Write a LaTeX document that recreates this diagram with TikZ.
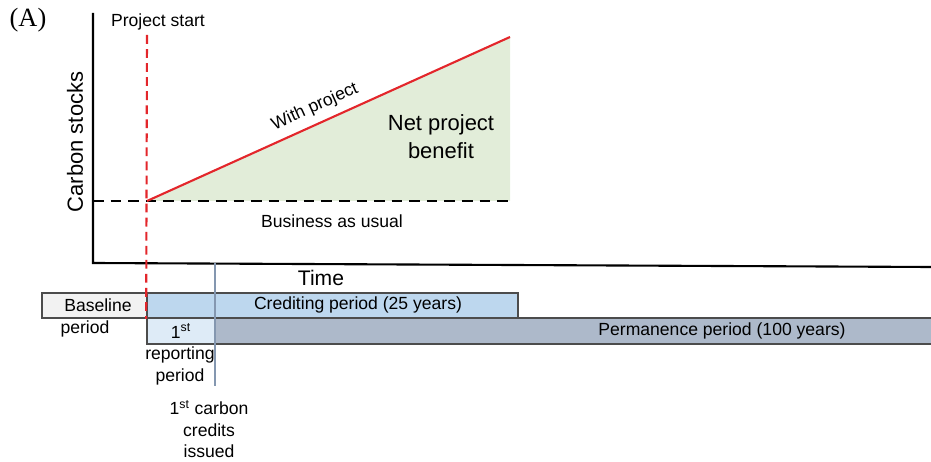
\documentclass[tikz,border=0pt]{standalone}
\usepackage{fontspec}
\setmainfont{Liberation Sans}
\newfontfamily\panelfont{Liberation Serif}
\usetikzlibrary{positioning}
\definecolor{benefit}{HTML}{E2EDD9}
\definecolor{withred}{HTML}{E3262B}
\definecolor{basegray}{HTML}{F2F2F2}
\definecolor{credblue}{HTML}{BDD7EE}
\definecolor{repblue}{HTML}{DEEBF7}
\definecolor{permgray}{HTML}{ADB9CA}
\definecolor{issueline}{HTML}{8497B0}
\newcommand{\boxline}{1pt}

\begin{document}
\begin{tikzpicture}[x=0.02cm,y=-0.02cm,font=\fontsize{10}{12}\selectfont,
    period/.style={draw=black!70, line width=\boxline, inner sep=0pt, minimum height=.5cm},
    big/.style={font=\fontsize{12.5}{16}\selectfont}]
\useasboundingbox (0,0) rectangle (931,462);

        % axes
        \coordinate (origin) at (93,263);
        \coordinate (ytop) at (93,13);
        \coordinate (xend) at (931,267);
        \draw[line width=1.2pt] (ytop) -- (origin) -- (xend);

        % carbon stock lines
        \coordinate (start) at (147,201);
        \coordinate (peak) at (510,37);
        \coordinate (starttop) at (147,35);
        \fill[benefit] (start) -- (peak) -- (peak |- start) -- cycle;
        \draw[line width=1.2pt, dash pattern=on 6pt off 4pt] (origin |- start) -- (peak |- start);
        \draw[withred, line width=1.2pt] (start) -- (peak);

        % period bars
        \node (baseline) at (94.5,305.5) [period, fill=basegray, minimum width=2.1cm] {};
        \node (crediting) at (332.5,305.5) [period, fill=credblue, minimum width=7.42cm] {};
        \node (reporting) at (181,331) [period, fill=repblue, minimum width=1.36cm, minimum height=.52cm] {};
        \node (permanence) at (575,331) [period, fill=permgray, minimum width=14.4cm, minimum height=.52cm] {};

        \coordinate (issuetop) at (215,263);
        \coordinate (issuebot) at (215,386);
        \draw[issueline, line width=.8pt] (issuetop) -- (issuebot);
        \draw[withred, line width=1.2pt, dash pattern=on 5pt off 3pt] (starttop) -- (crediting.south west);

        % labels
        \node (panel) at (28,20) {\panelfont\fontsize{15}{18}\selectfont (A)};
        \node (startlabel) at (158,22) {Project start};
        \node (withlabel) at (315,107) [rotate=24.3, inner sep=0pt] {With project};
        \node (netlabel) at (441,137) [big, align=center, inner sep=1pt] {Net project\\benefit};
        \node (bau) at (332,221) {Business as usual};
        \node (ylabel) at (75,142) [big, rotate=90] {Carbon stocks};
        \node (xlabel) at (321,278) [font=\fontsize{12}{14}\selectfont] {Time};
        \node (baselabel) at (98,305) {Baseline};
        \node (baselabel2) at (85,329) {period};
        \node (credlabel) at (358,305) {Crediting period (25 years)};
        \node (replabel) at (181,331) {1\textsuperscript{st}};
        \node (replabel2) at (180,366) [align=center, font=\fontsize{10}{13}\selectfont] {reporting\\period};
        \node (permlabel) at (722,331) {Permanence period (100 years)};
        \node (issuelabel) at (209,429) [align=center, font=\fontsize{10}{12.2}\selectfont] {1\textsuperscript{st} carbon\\credits\\issued};
\end{tikzpicture}
\end{document}
